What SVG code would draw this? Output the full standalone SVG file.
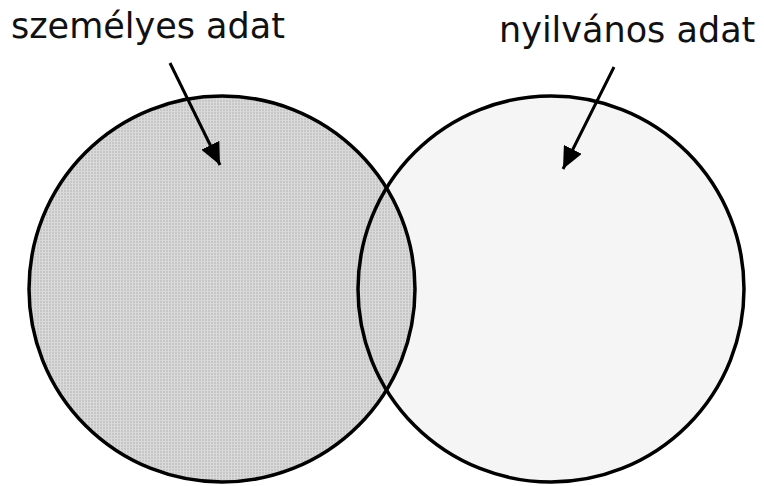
<svg xmlns="http://www.w3.org/2000/svg" width="764" height="486" viewBox="0 0 764 486">
  <defs>
    <!-- fine woven texture for the shaded set -->
    <pattern id="hatch" width="3" height="3" patternUnits="userSpaceOnUse">
      <rect width="3" height="3" fill="#c6c6c6"/>
      <rect x="0" y="0" width="1" height="3" fill="#dcdcdc"/>
      <rect x="0" y="0" width="3" height="1" fill="#d8d8d8"/>
    </pattern>
    <marker id="head" viewBox="0 0 22 20" refX="22" refY="10" markerWidth="22" markerHeight="20" markerUnits="userSpaceOnUse" orient="auto">
      <path d="M0,0 L22,10 L0,20 Z" fill="#000"/>
    </marker>
  </defs>
  <style>
    .label { font-family: "DejaVu Sans", Verdana, sans-serif; font-size: 35px; fill: #111; }
    .outline { fill: none; stroke: #000; stroke-width: 3.5; }
    .conn { stroke: #000; stroke-width: 3; fill: none; }
  </style>
  <rect width="764" height="486" fill="#fff"/>

  <g id="public-set">
    <circle cx="551" cy="289" r="193" fill="#f5f5f5"/>
  </g>
  <g id="personal-set">
    <circle cx="222" cy="289" r="193" fill="url(#hatch)"/>
  </g>
  <g id="outlines">
    <circle class="outline" cx="551" cy="289" r="193"/>
    <circle class="outline" cx="222" cy="289" r="193"/>
  </g>

  <g id="label-personal">
    <text class="label" x="11" y="38">személyes adat</text>
  </g>
  <g id="label-public">
    <text class="label" x="499" y="42">nyilvános adat</text>
  </g>

  <g id="connectors">
    <line class="conn" x1="170" y1="63" x2="220" y2="165" marker-end="url(#head)"/>
    <line class="conn" x1="614" y1="67" x2="563" y2="169" marker-end="url(#head)"/>
  </g>
</svg>
